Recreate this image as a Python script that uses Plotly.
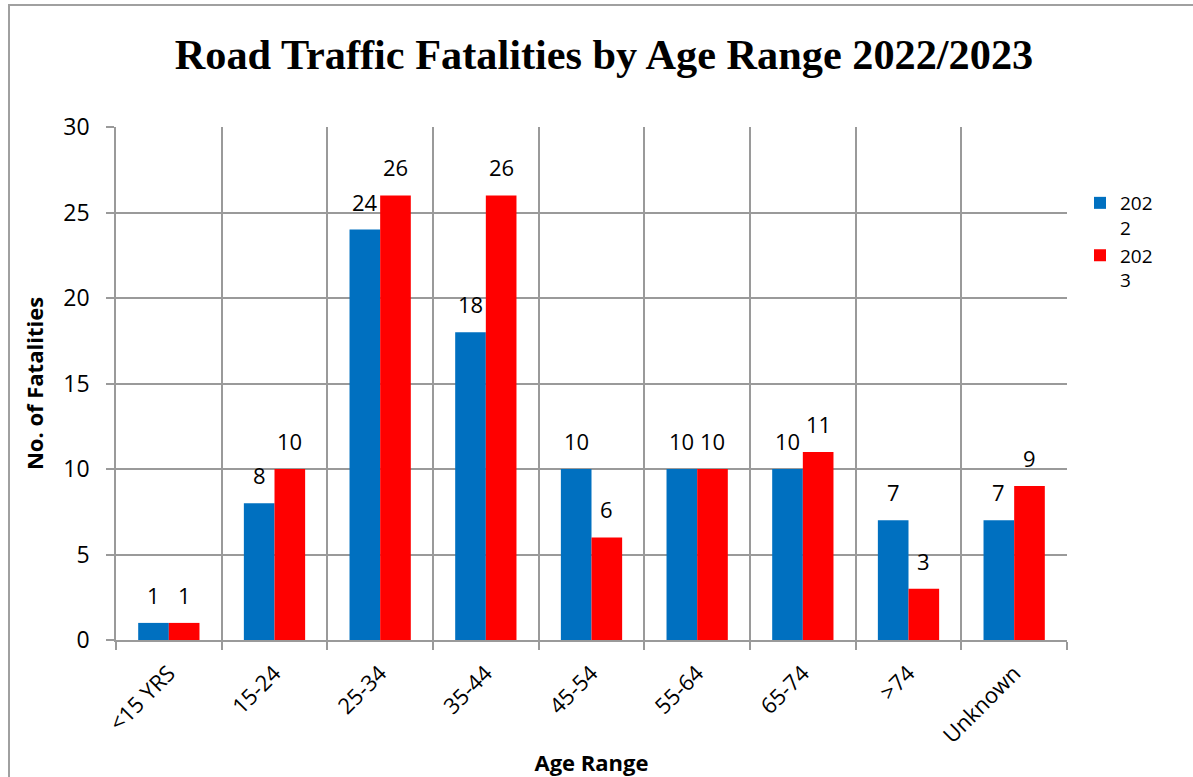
import plotly.graph_objects as go

categories = ["<15 YRS", "15-24", "25-34", "35-44", "45-54", "55-64", "65-74", ">74", "Unknown"]
values_2022 = [1, 8, 24, 18, 10, 10, 10, 7, 7]
values_2023 = [1, 10, 26, 26, 6, 10, 11, 3, 9]
series_names = ["202<br>2", "202<br>3"]
y_ticks = [0, 5, 10, 15, 20, 25, 30]

BLUE = "#0070C0"
RED = "#FF0000"
GRID = "#9a9a9a"
FONT = "Open Sans"

W, H = 1193, 777
L, R, T, B = 116, 126, 127, 137
pw, ph = W - L - R, H - T - B

fig = go.Figure()
fig.add_trace(go.Bar(x=categories, y=values_2022, name=series_names[0], marker=dict(color=BLUE, line=dict(width=0))))
fig.add_trace(go.Bar(x=categories, y=values_2023, name=series_names[1], marker=dict(color=RED, line=dict(width=0))))

annotations = []
half = 15.3
for vals, shift in ((values_2022, -half), (values_2023, half)):
    for c, v in zip(categories, vals):
        annotations.append(dict(x=c, y=v, xref="x", yref="y", text=str(v), showarrow=False,
                                xshift=shift, yshift=11, yanchor="bottom", xanchor="center",
                                font=dict(family=FONT, size=22, color="black")))

fig.update_layout(
    width=W, height=H,
    margin=dict(l=L, r=R, t=T, b=B, autoexpand=False),
    paper_bgcolor="white", plot_bgcolor="white",
    barmode="group", bargap=0.42, bargroupgap=0,
    title=dict(text="<b>Road Traffic Fatalities by Age Range 2022/2023</b>",
               x=604 / W, xref="container", xanchor="center",
               y=1 - 54 / H, yref="container", yanchor="middle",
               font=dict(family="Liberation Serif", size=42.3, color="black")),
    legend=dict(x=(1080 - L) / pw, y=(640 - 184) / ph, xanchor="left", yanchor="top",
                valign="top",
                font=dict(family=FONT, size=19, color="black"), bgcolor="rgba(0,0,0,0)",
                tracegroupgap=0),
    annotations=annotations,
    shapes=[dict(type="rect", xref="paper", yref="paper",
                 x0=(9 - L) / pw, x1=(W + 20 - L) / pw,
                 y0=(640 - (H + 20)) / ph, y1=(640 - 5) / ph,
                 line=dict(color="#a0a0a0", width=2), fillcolor="rgba(0,0,0,0)", layer="below")],
)

fig.update_xaxes(
    type="category", tickson="boundaries", showgrid=True, gridcolor=GRID, gridwidth=1.6,
    ticks="outside", ticklen=8, tickcolor=GRID, tickwidth=1.6,
    showline=True, linecolor=GRID, linewidth=1.6,
    tickangle=-45, tickfont=dict(family=FONT, size=22, color="black"), ticklabelstandoff=10,
    title=dict(text="<b>Age Range</b>", font=dict(family=FONT, size=22, color="black"), standoff=10),
)
fig.update_yaxes(
    range=[0, 30], tickvals=y_ticks, showgrid=True, gridcolor=GRID, gridwidth=1.6,
    ticks="outside", ticklen=8, tickcolor=GRID, tickwidth=1.6,
    showline=True, linecolor=GRID, linewidth=1.6, zeroline=False,
    tickfont=dict(family=FONT, size=23, color="black"), ticklabelstandoff=12,
    title=dict(text="<b>No. of Fatalities</b>", font=dict(family=FONT, size=22, color="black"), standoff=14),
)

fig.write_html("out.html", config={"displayModeBar": False},
               post_script="document.body.style.margin='0';document.body.style.padding='0';")
